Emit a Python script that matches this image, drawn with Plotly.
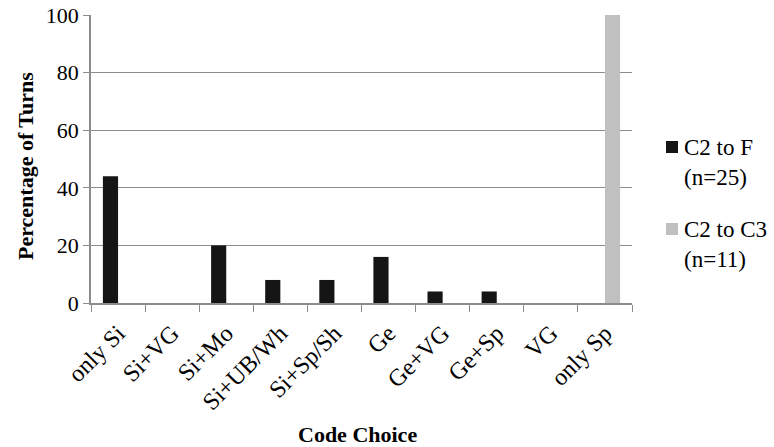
import plotly.graph_objects as go

# Code choice categories and the share of turns (%) for each transition
categories = ["only Si", "Si+VG", "Si+Mo", "Si+UB/Wh", "Si+Sp/Sh",
              "Ge", "Ge+VG", "Ge+Sp", "VG", "only Sp"]
c2_to_f = [44, 0, 20, 8, 8, 16, 4, 4, 0, 0]
c2_to_c3 = [0, 0, 0, 0, 0, 0, 0, 0, 0, 100]

series_names = ["C2 to F", "C2 to C3"]
series_counts = ["(n=25)", "(n=11)"]
series_colors = ["#151515", "#c0c0c0"]

FONT = "Liberation Serif, Times New Roman, serif"
W, H = 774, 447
L, R, T, B = 91, 142, 15, 144
PW, PH = W - L - R, H - T - B


def px_x(x):
    return (x - L) / PW


def px_y(y):
    return (H - B - y) / PH


fig = go.Figure()
for name, vals, col in zip(series_names, [c2_to_f, c2_to_c3], series_colors):
    fig.add_trace(go.Bar(x=categories, y=vals, name=name,
                         marker=dict(color=col, line=dict(width=0)),
                         showlegend=False))

axis_grey = "#8c8c8c"
fig.update_layout(
    width=W, height=H,
    margin=dict(l=L, r=R, t=T, b=B, autoexpand=False),
    paper_bgcolor="white", plot_bgcolor="white",
    barmode="group", bargap=0.44, bargroupgap=0,
    font=dict(family=FONT, color="black", size=22),
    xaxis=dict(type="category", tickson="boundaries", ticks="outside",
               ticklen=7, tickcolor=axis_grey, showline=True,
               linecolor=axis_grey, linewidth=1.5, tickangle=-45,
               automargin=False, ticklabelstandoff=5,
               tickfont=dict(family=FONT, size=24), showgrid=False),
    yaxis=dict(range=[0, 100], dtick=20, ticks="outside", ticklen=6,
               tickcolor=axis_grey, showline=True, linecolor=axis_grey,
               linewidth=1.5, showgrid=True, gridcolor=axis_grey,
               gridwidth=1, zeroline=False, automargin=False,
               tickfont=dict(family=FONT, size=22)),
)

# axis titles
fig.add_annotation(text="<b>Percentage of Turns</b>", textangle=-90,
                   xref="paper", yref="paper", x=px_x(25), y=px_y(166),
                   xanchor="center", yanchor="middle", showarrow=False,
                   font=dict(family=FONT, size=22))
fig.add_annotation(text="<b>Code Choice</b>",
                   xref="paper", yref="paper", x=px_x(357), y=px_y(434),
                   xanchor="center", yanchor="middle", showarrow=False,
                   font=dict(family=FONT, size=22))

# legend: coloured square followed by a two-line label
legend_rows = [147, 229]
for name, count, col, yc in zip(series_names, series_counts, series_colors, legend_rows):
    fig.add_shape(type="rect", xref="paper", yref="paper",
                  x0=px_x(666), x1=px_x(678), y0=px_y(yc - 6), y1=px_y(yc + 6),
                  fillcolor=col, line=dict(width=0))
    fig.add_annotation(text=name, xref="paper", yref="paper",
                       x=px_x(682), y=px_y(yc), xanchor="left", yanchor="middle",
                       showarrow=False, font=dict(family=FONT, size=23))
    fig.add_annotation(text=count, xref="paper", yref="paper",
                       x=px_x(682), y=px_y(yc + 30), xanchor="left", yanchor="middle",
                       showarrow=False, font=dict(family=FONT, size=23))

fig.write_html("out.html")
